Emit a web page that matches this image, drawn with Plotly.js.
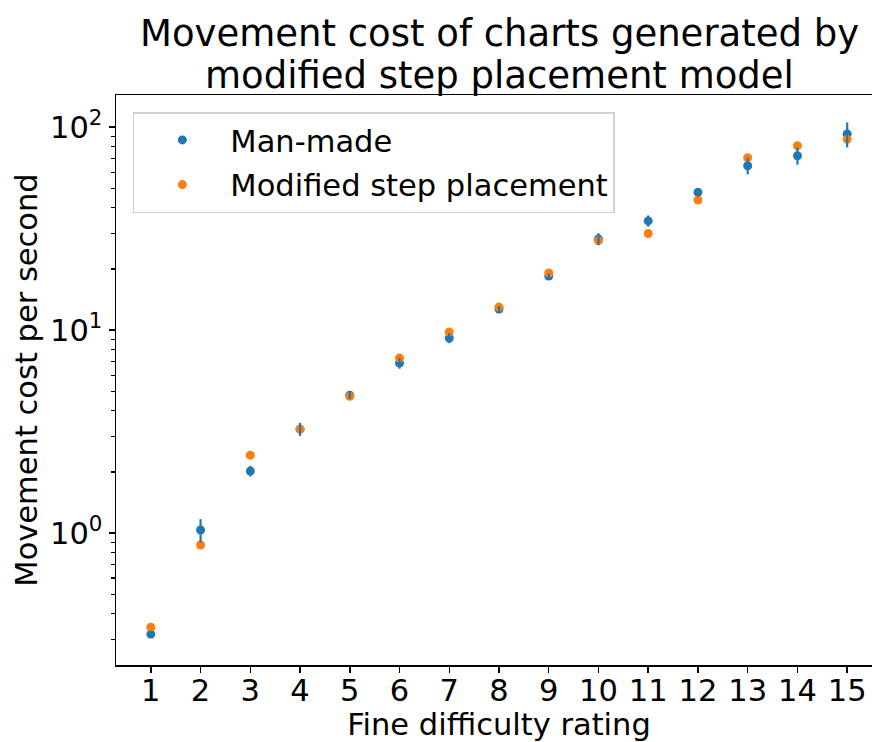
<!DOCTYPE html>
<html>
<head>
<meta charset="utf-8">
<script src="https://cdn.plot.ly/plotly-3.0.1.min.js"></script>
<style>
html,body{margin:0;padding:0;overflow:hidden;background:#fff;}
#chart{width:890px;height:742px;}
</style>
</head>
<body>
<div id="chart"></div>
<script>
// Fine difficulty ratings
const ratings = [1,2,3,4,5,6,7,8,9,10,11,12,13,14,15];
// Man-made charts: mean movement cost per second and error
const manMade = [0.318,1.035,2.02,3.25,4.78,6.88,9.14,12.7,18.45,28.1,34.5,47.7,64.5,72.2,92.4];
const manMadeErr = [0.012,0.135,0.12,0.24,0.2,0.43,0.52,0.4,0.5,1.9,2.2,2.3,6,7,13];
// Modified step placement model
const modified = [0.344,0.873,2.42,3.25,4.72,7.28,9.78,12.98,19.1,27.6,29.9,43.7,70.6,80.9,87.0];
// Tick labels
const yTickVals = [1,10,100];
const yTickText = ['10<sup>0</sup>','10<sup>1</sup>','10<sup>2</sup>'];
const yMinorVals = [0.3,0.4,0.5,0.6,0.7,0.8,0.9,2,3,4,5,6,7,8,9,20,30,40,50,60,70,80,90];
// Title lines
const titleLines = ['Movement cost of charts generated by','modified step placement model'];

const BLUE = '#1f77b4', ORANGE = '#ff7f0e';
const FONT = 'DejaVu Sans, Verdana, sans-serif';
const FS = 30.5;

const traces = [
  {x: ratings, y: manMade, type:'scatter', mode:'markers', name:'Man-made',
   legendgroup:'a', marker:{color:BLUE, size:9}},
  {x: ratings, y: modified, type:'scatter', mode:'markers', name:'Modified step placement',
   legendgroup:'b', marker:{color:ORANGE, size:9}},
  {x: ratings, y: manMade, type:'scatter', mode:'markers', showlegend:false, hoverinfo:'skip',
   marker:{color:BLUE, size:1, opacity:0},
   error_y:{type:'data', array: manMadeErr, visible:true, color:BLUE, thickness:2.2, width:0}}
];

// plot area: top 95px, bottom 665px (570px tall)
const plotTop = 95, plotH = 570;
const pyToPaper = py => (plotTop + plotH - py) / plotH;
const titleCenters = [34, 76];

const layout = {
  width: 890, height: 742,
  margin: {l:116, r:8, t:95, b:77},
  paper_bgcolor:'#fff', plot_bgcolor:'#fff',
  font: {family: FONT, size: FS, color:'#000'},
  annotations: titleLines.map((t,i) => ({
    text: t, xref:'paper', yref:'paper', x:0.5, y: pyToPaper(titleCenters[i]),
    xanchor:'center', yanchor:'middle', showarrow:false,
    font:{family:FONT, size:37, color:'#000'}
  })),
  showlegend: true,
  legend: {x:0.022, y:0.97, xanchor:'left', yanchor:'top', bgcolor:'rgba(255,255,255,0.8)',
           bordercolor:'#d0d0d0', borderwidth:1.5, font:{family:FONT, size:FS, color:'#000'},
           itemwidth:86, traceorder:'grouped', tracegroupgap:2},
  xaxis: {range:[0.3,15.7], tickmode:'array', tickvals: ratings, ticktext: ratings.map(String),
          ticks:'outside', ticklen:6, tickwidth:1.5, tickcolor:'#000', ticklabelstandoff:-8,
          showline:true, linecolor:'#000', linewidth:1.5, mirror:true,
          showgrid:false, zeroline:false,
          tickfont:{family:FONT, size:FS, color:'#000'},
          title:{text:'Fine difficulty rating', font:{family:FONT, size:FS, color:'#000'}, standoff:8}},
  yaxis: {type:'log', range:[-0.65, 2.158], tickmode:'array', tickvals:yTickVals, ticktext:yTickText,
          ticks:'outside', ticklen:6, tickwidth:1.5, tickcolor:'#000',
          minor:{tickmode:'array', tickvals:yMinorVals, ticks:'outside', ticklen:3.5, tickwidth:1.2, tickcolor:'#000', showgrid:false},
          showline:true, linecolor:'#000', linewidth:1.5, mirror:true,
          showgrid:false, zeroline:false,
          tickfont:{family:FONT, size:FS, color:'#000'},
          title:{text:'Movement cost per second', font:{family:FONT, size:FS, color:'#000'}, standoff:3}}
};

Plotly.newPlot('chart', traces, layout, {displayModeBar:false, staticPlot:true});
</script>
</body>
</html>
